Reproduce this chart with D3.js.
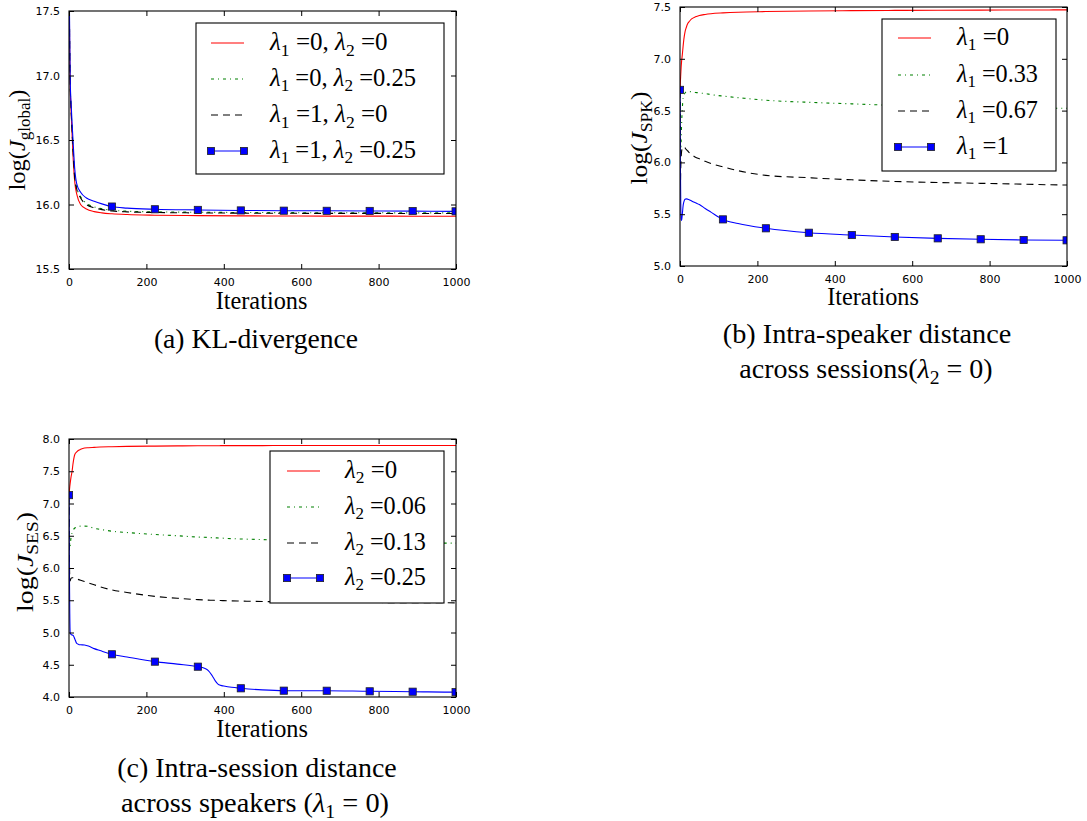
<!DOCTYPE html>
<html><head><meta charset="utf-8">
<script src="https://cdn.jsdelivr.net/npm/d3@7"></script>
</head><body style="margin:0;background:#fff">
<svg id="chart" width="1087" height="821"></svg>
<script>
// ---------------- data ----------------
const markIters = [0, 111, 222, 333, 444, 555, 666, 777, 888, 999];
const xTicks = [0, 200, 400, 600, 800, 1000];

// (a) KL-divergence
const itersA = [0, 1, 3, 6, 10, 15, 20, 30, 45, 65, 85, 111, 150, 222, 333, 444, 555, 666, 777, 888, 999, 1000];
const redA   = [18.2, 17.5, 16.95, 16.68, 16.4, 16.17, 16.08, 16.0, 15.965, 15.945, 15.935, 15.928, 15.922, 15.917, 15.914, 15.912, 15.911, 15.91, 15.91, 15.909, 15.909, 15.909];
const greenA = [18.2, 17.52, 16.96, 16.71, 16.46, 16.21, 16.13, 16.06, 16.01, 15.982, 15.967, 15.956, 15.948, 15.943, 15.94, 15.938, 15.937, 15.936, 15.936, 15.935, 15.935, 15.935];
const blackA = [18.2, 17.52, 16.96, 16.7, 16.45, 16.2, 16.12, 16.05, 16.0, 15.975, 15.96, 15.95, 15.943, 15.938, 15.935, 15.933, 15.932, 15.931, 15.931, 15.93, 15.93, 15.93];
const blueA  = [18.2, 17.55, 16.98, 16.75, 16.52, 16.27, 16.16, 16.095, 16.05, 16.025, 16.005, 15.984, 15.972, 15.963, 15.958, 15.954, 15.952, 15.951, 15.95, 15.949, 15.947, 15.947];
const yTicksA = [15.5, 16.0, 16.5, 17.0, 17.5];
const labelsA = ["λ_1 =0, λ_2 =0", "λ_1 =0, λ_2 =0.25", "λ_1 =1, λ_2 =0", "λ_1 =1, λ_2 =0.25"];

// (b) Intra-speaker distance
const itersB = [0, 1, 2, 3, 4, 6, 8, 10, 13, 16, 20, 25, 30, 40, 50, 65, 80, 111, 150, 222, 333, 444, 555, 666, 777, 888, 999, 1000];
const redB   = [6.7, 6.78, 6.85, 6.92, 6.97, 7.04, 7.12, 7.19, 7.26, 7.3, 7.34, 7.365, 7.385, 7.405, 7.418, 7.428, 7.435, 7.443, 7.45, 7.456, 7.462, 7.465, 7.467, 7.469, 7.47, 7.471, 7.472, 7.472];
const greenB = [6.7, 6.3, 6.1, 6.2, 6.35, 6.52, 6.62, 6.65, 6.67, 6.68, 6.683, 6.683, 6.68, 6.675, 6.67, 6.665, 6.655, 6.64, 6.625, 6.6, 6.58, 6.565, 6.55, 6.54, 6.535, 6.528, 6.522, 6.522];
const blackB = [6.7, 5.8, 5.95, 6.05, 6.1, 6.14, 6.15, 6.15, 6.14, 6.125, 6.11, 6.09, 6.075, 6.05, 6.035, 6.01, 5.99, 5.957, 5.92, 5.875, 5.852, 5.832, 5.816, 5.806, 5.798, 5.79, 5.782, 5.782];
const blueB  = [6.7, 6.0, 5.6, 5.45, 5.44, 5.5, 5.58, 5.62, 5.645, 5.648, 5.645, 5.638, 5.628, 5.61, 5.593, 5.555, 5.52, 5.45, 5.41, 5.364, 5.321, 5.299, 5.28, 5.267, 5.258, 5.251, 5.248, 5.248];
const yTicksB = [5.0, 5.5, 6.0, 6.5, 7.0, 7.5];
const labelsB = ["λ_1 =0", "λ_1 =0.33", "λ_1 =0.67", "λ_1 =1"];

// (c) Intra-session distance
const itersC = [0, 1, 2, 3, 5, 8, 10, 15, 20, 25, 30, 40, 50, 65, 80, 111, 150, 222, 280, 333, 350, 360, 370, 378, 385, 392, 400, 420, 444, 500, 555, 666, 777, 888, 999, 1000];
const redC   = [7.13, 7.2, 7.26, 7.31, 7.4, 7.5, 7.6, 7.76, 7.8, 7.825, 7.84, 7.86, 7.865, 7.87, 7.875, 7.88, 7.885, 7.89, 7.893, 7.895, 7.895, 7.896, 7.896, 7.896, 7.896, 7.897, 7.897, 7.897, 7.898, 7.898, 7.899, 7.899, 7.9, 7.9, 7.9, 7.9];
const greenC = [7.13, 6.6, 6.31, 6.35, 6.46, 6.55, 6.58, 6.62, 6.635, 6.645, 6.65, 6.65, 6.645, 6.615, 6.6, 6.57, 6.55, 6.52, 6.5, 6.48, 6.476, 6.473, 6.47, 6.468, 6.466, 6.464, 6.462, 6.455, 6.45, 6.44, 6.43, 6.415, 6.405, 6.395, 6.385, 6.385];
const blackC = [7.13, 6.2, 5.85, 5.8, 5.84, 5.85, 5.85, 5.84, 5.83, 5.82, 5.81, 5.79, 5.77, 5.74, 5.71, 5.66, 5.62, 5.56, 5.53, 5.51, 5.505, 5.502, 5.5, 5.498, 5.497, 5.495, 5.494, 5.49, 5.487, 5.48, 5.475, 5.47, 5.465, 5.462, 5.46, 5.46];
const blueC  = [7.13, 6.0, 5.3, 5.0, 4.97, 4.96, 4.96, 4.9, 4.83, 4.815, 4.81, 4.805, 4.79, 4.75, 4.72, 4.662, 4.62, 4.548, 4.51, 4.47, 4.445, 4.41, 4.33, 4.25, 4.2, 4.18, 4.17, 4.15, 4.135, 4.11, 4.098, 4.097, 4.088, 4.082, 4.075, 4.075];
const yTicksC = [4.0, 4.5, 5.0, 5.5, 6.0, 6.5, 7.0, 7.5, 8.0];
const labelsC = ["λ_2 =0", "λ_2 =0.06", "λ_2 =0.13", "λ_2 =0.25"];

const captionA = ["(a) KL-divergence"];
const captionB = ["(b) Intra-speaker distance", "across sessions(λ_2 = 0)"];
const captionC = ["(c) Intra-session distance", "across speakers (λ_1 = 0)"];

// ---------------- styles / layout ----------------
const SERIF = "Liberation Serif";
const SANS = "DejaVu Sans";
const styles = [
  {color: "#ff0000", dash: null, marker: false},
  {color: "#008000", dash: "3,4,1,4", marker: false},
  {color: "#000000", dash: "7,5", marker: false},
  {color: "#0000ff", dash: null, marker: true}
];

const panels = [
  {id: "a", iters: itersA, series: [redA, greenA, blackA, blueA], yTicks: yTicksA, labels: labelsA,
   plot: {l: 69, r: 456, t: 11, b: 269}, ysub: "global",
   ylab: {x: 25, y: 140, w: 101},
   legend: {x: 196, y: 23, w: 248, h: 151, rows: [43, 79, 115, 151], sx0: 211, sx1: 244, tx: 270, widths: [134, 163, 134, 163]},
   xlab: {x: 261.5, y: 309},
   caption: captionA, cap: [{x: 256, y: 348, w: 226}]},
  {id: "b", iters: itersB, series: [redB, greenB, blackB, blueB], yTicks: yTicksB, labels: labelsB,
   plot: {l: 680, r: 1067, t: 7, b: 266}, ysub: "SPK",
   ylab: {x: 647, y: 138, w: 93},
   legend: {x: 882, y: 19, w: 174, h: 152, rows: [38, 75, 111, 147], sx0: 898, sx1: 931, tx: 957, widths: [59, 89, 89, 58]},
   xlab: {x: 873, y: 305},
   caption: captionB, cap: [{x: 867, y: 343, w: 326}, {x: 866, y: 378, w: 284}]},
  {id: "c", iters: itersC, series: [redC, greenC, blackC, blueC], yTicks: yTicksC, labels: labelsC,
   plot: {l: 69, r: 456, t: 439, b: 697}, ysub: "SES",
   ylab: {x: 33, y: 562, w: 100},
   legend: {x: 270, y: 451, w: 174, h: 152, rows: [471, 507, 543, 578], sx0: 287, sx1: 320, tx: 345, widths: [59, 89, 89, 89]},
   xlab: {x: 262, y: 737},
   caption: captionC, cap: [{x: 257, y: 777, w: 313}, {x: 255, y: 812, w: 304}]}
];

const svg = d3.select("#chart");

function rich(sel, str, fs) {
  const parts = str.split(/(λ_\d)/);
  let down = false;
  parts.forEach(p => {
    if (!p) return;
    const m = p.match(/^λ_(\d)$/);
    if (m) {
      const t = sel.append("tspan").attr("font-style", "italic").text("λ");
      if (down) { t.attr("dy", -fs * 0.22); }
      sel.append("tspan").attr("font-size", fs * 0.7).attr("dy", fs * 0.22).text(m[1]);
      down = true;
    } else {
      const t = sel.append("tspan").text(p.replace(/ /g, "\u00A0"));
      if (down) { t.attr("dy", -fs * 0.22); down = false; }
    }
  });
}
// place a horizontal text at (px,py), scaled uniformly part way toward a target width
// (horizontal-only stretching spoils the serif glyph rendering)
function fitH(t, px, py, w) {
  const nat = t.node().getComputedTextLength();
  const s = nat > 0 ? Math.sqrt(w / nat) : 1;
  t.attr("transform", `translate(${px},${py}) scale(${s})`);
}
// rotated label: stretch along the text direction
function fitV(t, px, py, w) {
  const nat = t.node().getComputedTextLength();
  const k = nat > 0 ? w / nat : 1;
  t.attr("transform", `translate(${px},${py}) rotate(-90) scale(${k},1)`);
}

panels.forEach(P => {
  const g = svg.append("g");
  const x = d3.scaleLinear().domain([0, 1000]).range([P.plot.l, P.plot.r]);
  const y = d3.scaleLinear().domain([P.yTicks[0], P.yTicks[P.yTicks.length - 1]]).range([P.plot.b, P.plot.t]);
  const clipId = "clip-" + P.id;
  svg.append("clipPath").attr("id", clipId).append("rect")
    .attr("x", P.plot.l).attr("y", P.plot.t).attr("width", P.plot.r - P.plot.l).attr("height", P.plot.b - P.plot.t);

  const plotG = g.append("g").attr("clip-path", `url(#${clipId})`);
  const line = d3.line().x((d, i) => x(P.iters[i])).y(d => y(d)).curve(d3.curveMonotoneX);
  P.series.forEach((vals, si) => {
    const st = styles[si];
    plotG.append("path").datum(vals).attr("d", line)
      .attr("fill", "none").attr("stroke", st.color).attr("stroke-width", 1.1)
      .attr("stroke-dasharray", st.dash);
    if (st.marker) {
      const pts = P.iters.map((it, i) => ({it, v: vals[i]})).filter(d => markIters.includes(d.it));
      plotG.selectAll(null).data(pts).enter().append("rect")
        .attr("x", d => x(d.it) - 3.6).attr("y", d => y(d.v) - 3.6)
        .attr("width", 7.2).attr("height", 7.2)
        .attr("fill", st.color).attr("stroke", "#222").attr("stroke-width", 0.8);
    }
  });

  // axes (inward ticks on all four sides)
  const tl = 5;
  const xb = d3.axisBottom(x).tickValues(xTicks).tickSizeInner(-tl).tickSizeOuter(0).tickPadding(tl + 4).tickFormat(d3.format("d"));
  const xt = d3.axisTop(x).tickValues(xTicks).tickSizeInner(-tl).tickSizeOuter(0).tickFormat("");
  const yl = d3.axisLeft(y).tickValues(P.yTicks).tickSizeInner(-tl).tickSizeOuter(0).tickPadding(tl + 4).tickFormat(d3.format(".1f"));
  const yr = d3.axisRight(y).tickValues(P.yTicks).tickSizeInner(-tl).tickSizeOuter(0).tickFormat("");
  const axes = [
    g.append("g").attr("transform", `translate(0,${P.plot.b})`).call(xb),
    g.append("g").attr("transform", `translate(0,${P.plot.t})`).call(xt),
    g.append("g").attr("transform", `translate(${P.plot.l},0)`).call(yl),
    g.append("g").attr("transform", `translate(${P.plot.r},0)`).call(yr)
  ];
  axes.forEach(a => {
    a.attr("font-family", SANS).attr("font-size", 11);
    a.select(".domain").remove();
    a.selectAll(".tick line").attr("stroke", "#000").attr("stroke-width", 1);
    a.selectAll(".tick text").attr("fill", "#000");
  });
  g.append("rect").attr("x", P.plot.l).attr("y", P.plot.t)
    .attr("width", P.plot.r - P.plot.l).attr("height", P.plot.b - P.plot.t)
    .attr("fill", "none").attr("stroke", "#000").attr("stroke-width", 1.1);

  // legend
  const L = P.legend;
  const lg = g.append("g");
  lg.append("rect").attr("x", L.x).attr("y", L.y).attr("width", L.w).attr("height", L.h)
    .attr("fill", "#fff").attr("stroke", "#000").attr("stroke-width", 1.1);
  P.labels.forEach((lab, i) => {
    const st = styles[i];
    const cy = L.rows[i];
    lg.append("line").attr("x1", L.sx0).attr("x2", L.sx1).attr("y1", cy).attr("y2", cy)
      .attr("stroke", st.color).attr("stroke-width", 1.1).attr("stroke-dasharray", st.dash);
    if (st.marker) {
      [L.sx0, L.sx1].forEach(mx => lg.append("rect").attr("x", mx - 3.6).attr("y", cy - 3.6)
        .attr("width", 7.2).attr("height", 7.2).attr("fill", st.color).attr("stroke", "#222").attr("stroke-width", 0.8));
    }
    const t = lg.append("text").attr("font-family", SERIF).attr("font-size", 22).attr("fill", "#000");
    rich(t, lab, 22);
    fitH(t, L.tx, cy + 7, L.widths[i]);
  });

  // axis labels
  const xlt = g.append("text").attr("font-family", SERIF).attr("text-anchor", "middle")
    .attr("font-size", 23).text("Iterations");
  fitH(xlt, P.xlab.x, P.xlab.y, 97);
  const yt = g.append("text").attr("font-family", SERIF).attr("text-anchor", "middle").attr("font-size", 23);
  yt.append("tspan").text("log(");
  yt.append("tspan").attr("font-style", "italic").text("J");
  yt.append("tspan").attr("font-size", 16).attr("dy", 5).text(P.ysub);
  yt.append("tspan").attr("dy", -5).text(")");
  fitV(yt, P.ylab.x, P.ylab.y, P.ylab.w);

  // caption
  P.caption.forEach((c, i) => {
    const pos = P.cap[i];
    const t = g.append("text").attr("font-family", SERIF).attr("text-anchor", "middle").attr("font-size", 25);
    rich(t, c, 25);
    fitH(t, pos.x, pos.y, pos.w);
  });
});
</script>
</body></html>
